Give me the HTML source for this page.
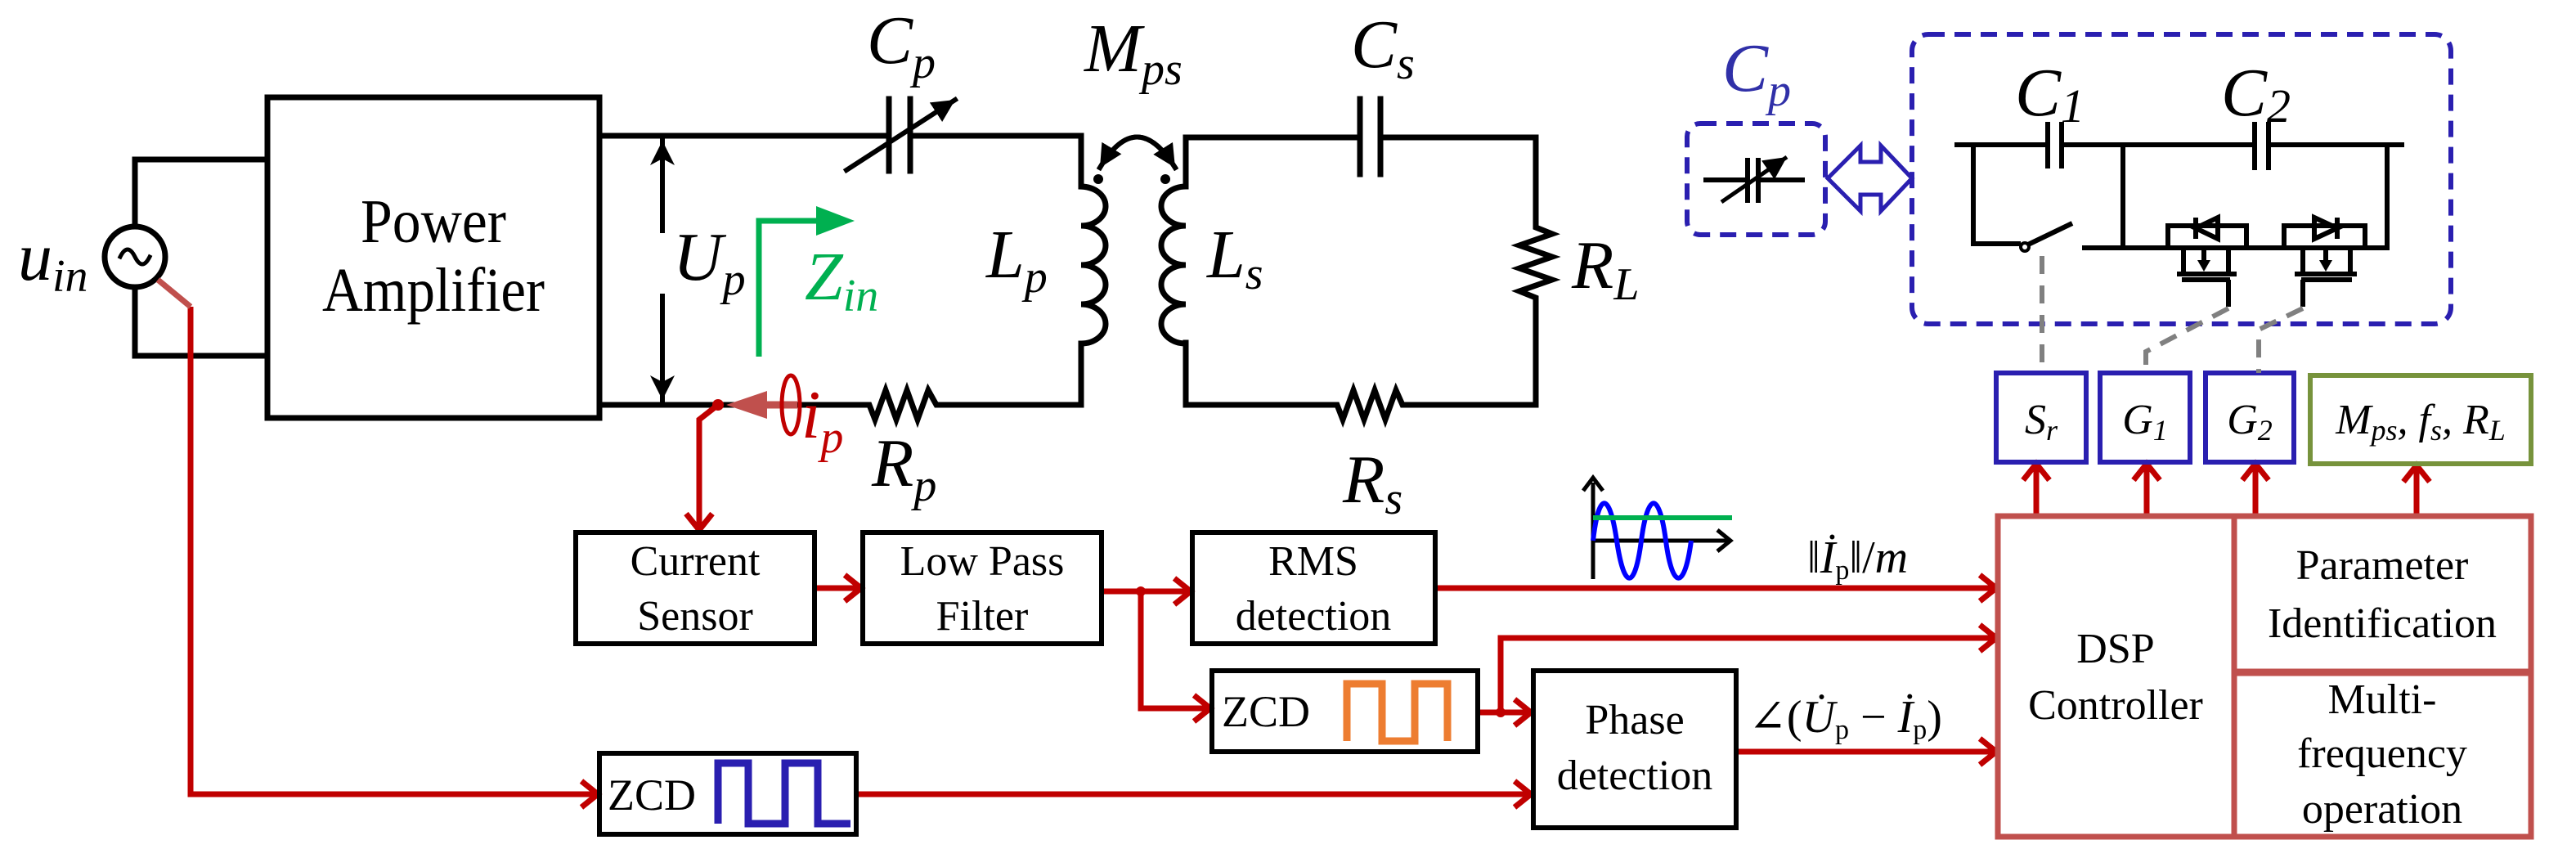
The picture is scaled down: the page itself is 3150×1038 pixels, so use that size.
<!DOCTYPE html>
<html><head><meta charset="utf-8"><style>
html,body{margin:0;padding:0;background:#fff;}
svg{display:block;font-family:'Liberation Serif','DejaVu Serif',serif;}
svg text{font-family:'Liberation Serif','DejaVu Serif',serif;}
.v{font-style:italic;}
</style></head><body>
<svg width="3150" height="1038" viewBox="0 0 3150 1038" xmlns="http://www.w3.org/2000/svg" font-family="Liberation Serif, serif">
<defs>
<marker id="ar" markerUnits="userSpaceOnUse" markerWidth="40" markerHeight="50" refX="26" refY="20" orient="auto">
<path d="M6,4 L26,20 L6,36" fill="none" stroke="#c00000" stroke-width="7"/>
</marker>
<marker id="bk" markerUnits="userSpaceOnUse" markerWidth="40" markerHeight="40" refX="30" refY="15" orient="auto">
<path d="M0,0 L30,15 L0,30 L8,15 Z" fill="#000"/>
</marker>
<marker id="bk2" markerUnits="userSpaceOnUse" markerWidth="40" markerHeight="40" refX="28" refY="14" orient="auto">
<path d="M0,0 L28,14 L0,28 Z" fill="#000"/>
</marker>
</defs>

<g stroke="#000" stroke-width="7" fill="none" stroke-linecap="square">
<ellipse cx="165" cy="314" rx="37" ry="37"/>
<path d="M147,314 q9,-18 18,0 q9,18 18,0" stroke-width="5"/>
<path d="M165,277 V195 H327 M165,351 V435 H327"/>
<rect x="327" y="119" width="406" height="392"/>
<path d="M733,166 H1087 M1113,166 H1322 V228"/>
<path d="M1087,121 V209 M1113,121 V209"/>
<path d="M1322,228 a30,24 0 0 1 0,48 a30,24 0 0 1 0,48 a30,24 0 0 1 0,48 a30,24 0 0 1 0,48 V495 H1145 l-10,-18 l-13,36 l-13,-36 l-13,36 l-13,-36 l-13,36 l-7,-18 H733"/>
<line x1="1035" y1="208" x2="1168" y2="122" marker-end="url(#bk2)" stroke-width="6"/>
<line x1="810" y1="282" x2="810" y2="172" marker-end="url(#bk)" stroke-width="6"/>
<line x1="810" y1="362" x2="810" y2="489" marker-end="url(#bk)" stroke-width="6"/>
<path d="M1450,228 V168 H1663 M1688,168 H1878 V278 l20,8 l-40,14 l40,14 l-40,14 l40,14 l-40,14 l20,8 V495 H1715 l-8,-18 l-13,36 l-13,-36 l-13,36 l-13,-36 l-13,36 l-7,-18 H1450 V419"/>
<path d="M1663,121 V213 M1688,121 V213"/>
<path d="M1450,228 a30,24 0 0 0 0,48 a30,24 0 0 0 0,48 a30,24 0 0 0 0,48 a30,24 0 0 0 0,48"/>
<path d="M1345,205 Q1390,130 1437,205" stroke-width="6" marker-end="url(#bk2)"/>
<path d="M1437,205 Q1390,130 1345,205" stroke-width="6" marker-end="url(#bk2)"/>
</g>
<circle cx="1343" cy="219" r="6"/>
<circle cx="1425" cy="219" r="6"/>

<path d="M928,436 V270 H1000" stroke="#00b050" stroke-width="7" fill="none"/>
<polygon points="998,252 1045,270 998,288" fill="#00b050"/>

<polygon points="888,495 938,478 938,512" fill="#c0504d"/>
<line x1="935" y1="495" x2="975" y2="495" stroke="#c0504d" stroke-width="9"/>
<ellipse cx="967" cy="495" rx="11" ry="36" fill="none" stroke="#c00000" stroke-width="5"/>
<circle cx="878" cy="495" r="7" fill="#c00000"/>

<g stroke="#c00000" stroke-width="7" fill="none">
<path d="M878,495 L855,513 V648" marker-end="url(#ar)"/>
<path d="M233,375 V971 H731" marker-end="url(#ar)"/>
<path d="M996,719 H1053" marker-end="url(#ar)"/>
<path d="M1347,723 H1456" marker-end="url(#ar)"/>
<path d="M1395,723 V866 H1480" marker-end="url(#ar)"/>
<path d="M1807,871 H1872" marker-end="url(#ar)"/>
<path d="M1835,871 V780 H2441" marker-end="url(#ar)"/>
<path d="M1755,719 H2441" marker-end="url(#ar)"/>
<path d="M2123,919 H2441" marker-end="url(#ar)"/>
<path d="M1047,971 H1872" marker-end="url(#ar)"/>
<path d="M2490,631 V567" marker-end="url(#ar)"/>
<path d="M2625,631 V567" marker-end="url(#ar)"/>
<path d="M2758,631 V567" marker-end="url(#ar)"/>
<path d="M2955,631 V569" marker-end="url(#ar)"/>
</g>
<line x1="193" y1="342" x2="233" y2="375" stroke="#c0504d" stroke-width="7"/>
<circle cx="1395" cy="723" r="6" fill="#c00000"/>
<circle cx="1835" cy="871" r="6" fill="#c00000"/>

<g stroke="#000" stroke-width="6" fill="none">
<rect x="704" y="651" width="292" height="136"/>
<rect x="1055" y="651" width="292" height="136"/>
<rect x="1458" y="651" width="297" height="136"/>
<rect x="1482" y="820" width="325" height="99"/>
<rect x="1875" y="820" width="248" height="192"/>
<rect x="733" y="921" width="314" height="99"/>
</g>
<path d="M878,1007 V933 H915 V1007 H960 V933 H1000 V1007 H1040" stroke="#2a1fb0" stroke-width="9" fill="none"/>
<path d="M1647,906 V836 H1690 V906 H1730 V836 H1770 V906" stroke="#ed7d31" stroke-width="9" fill="none"/>

<g stroke="#c0504d" stroke-width="7" fill="none">
<rect x="2443" y="631" width="652" height="392"/>
<line x1="2732" y1="631" x2="2732" y2="1023"/>
<line x1="2732" y1="822" x2="3095" y2="822" stroke-width="9"/>
</g>
<g stroke="#2a1fb0" stroke-width="6" fill="none">
<rect x="2441" y="456" width="110" height="109"/>
<rect x="2568" y="456" width="110" height="109"/>
<rect x="2697" y="456" width="108" height="109"/>
</g>
<rect x="2825" y="459" width="270" height="108" stroke="#77933c" stroke-width="6" fill="none"/>

<g fill="none">
<line x1="1948" y1="708" x2="1948" y2="590" stroke="#000" stroke-width="5"/>
<path d="M1936,600 L1948,584 L1960,600" stroke="#000" stroke-width="5"/>
<line x1="1948" y1="661" x2="2112" y2="661" stroke="#000" stroke-width="5"/>
<path d="M2100,648 L2116,661 L2100,674" stroke="#000" stroke-width="5"/>
<path d="M1948,661 C1955,600 1968,600 1977,661 S1999,722 2007,661 S2029,600 2037,661 S2060,722 2068,661" stroke="#0000ff" stroke-width="6"/>
<line x1="1948" y1="633" x2="2118" y2="633" stroke="#00b050" stroke-width="6"/>
</g>

<g stroke="#2a1fb0" stroke-width="6" fill="none" stroke-dasharray="20 12">
<rect x="2063" y="151" width="169" height="136" rx="16"/>
<rect x="2338" y="42" width="659" height="354" rx="20"/>
</g>
<g stroke="#000" stroke-width="6" fill="none">
<path d="M2083,220 H2137 M2150,220 H2207 M2137,193 V248 M2150,193 V248"/>
<line x1="2105" y1="247" x2="2185" y2="192" marker-end="url(#bk2)" stroke-width="5"/>
</g>
<polygon points="2235,218 2275,178 2275,198 2300,198 2300,178 2338,218 2300,258 2300,238 2275,238 2275,258" fill="#fff" stroke="#2a1fb0" stroke-width="5"/>

<g stroke="#000" stroke-width="6" fill="none">
<path d="M2390,177 H2504 M2521,177 H2757 M2774,177 H2940"/>
<path d="M2504,149 V206 M2521,149 V206 M2757,149 V208 M2774,149 V208"/>
<path d="M2413,177 V298 H2471"/>
<path d="M2480,299 L2534,273"/>
<path d="M2546,303 H2919 V180"/>
<path d="M2596,177 V303"/>
<path d="M2651,303 V276 H2747 V303"/>
<path d="M2685,266 V292"/>
<polygon points="2685,279 2712,266 2712,292"/>
<path d="M2670,303 V335 M2725,303 V335 M2695,303 V322"/>
<path d="M2662,335 H2735 M2668,342 H2727 M2725,342 V375"/>
<path d="M2793,303 V276 H2892 V303"/>
<path d="M2858,266 V292"/>
<polygon points="2858,279 2830,266 2830,292"/>
<path d="M2816,303 V335 M2874,303 V335 M2844,303 V322"/>
<path d="M2806,335 H2882 M2814,342 H2876 M2816,342 V375"/>
</g>
<polygon points="2687,318 2703,318 2695,332" fill="#000"/>
<polygon points="2836,318 2852,318 2844,332" fill="#000"/>
<circle cx="2476" cy="302" r="5" fill="#fff" stroke="#000" stroke-width="4"/>
<g stroke="#808080" stroke-width="6" fill="none" stroke-dasharray="22 14">
<path d="M2497,313 V456"/>
<path d="M2725,377 L2624,430 V456"/>
<path d="M2816,377 L2762,403 V456"/>
</g>

<g font-size="76" text-anchor="middle">
<text x="530" y="296" textLength="178" lengthAdjust="spacingAndGlyphs">Power</text>
<text x="530" y="380" textLength="272" lengthAdjust="spacingAndGlyphs">Amplifier</text>
</g>
<g font-size="52" text-anchor="middle">
<text x="850" y="703">Current</text>
<text x="850" y="770">Sensor</text>
<text x="1201" y="703">Low Pass</text>
<text x="1201" y="770">Filter</text>
<text x="1606" y="703">RMS</text>
<text x="1606" y="770">detection</text>
<text x="1999" y="897">Phase</text>
<text x="1999" y="965">detection</text>
<text x="2587" y="810">DSP</text>
<text x="2587" y="879">Controller</text>
<text x="2913" y="708">Parameter</text>
<text x="2913" y="779">Identification</text>
<text x="2913" y="872">Multi-</text>
<text x="2913" y="938">frequency</text>
<text x="2913" y="1006">operation</text>
</g>
<text x="743" y="990" font-size="54">ZCD</text>
<text x="1494" y="888" font-size="54">ZCD</text>

<g class="v" font-size="84">
<text x="22" y="342">u<tspan font-size="56" dy="14">in</tspan></text>
<text x="1060" y="77">C<tspan font-size="56" dy="18">p</tspan></text>
<text x="1326" y="87">M<tspan font-size="56" dy="16">ps</tspan></text>
<text x="1652" y="82">C<tspan font-size="56" dy="14">s</tspan></text>
<text x="823" y="342">U<tspan font-size="56" dy="18">p</tspan></text>
<text x="984" y="366" fill="#00b050">Z<tspan font-size="56" dy="14">in</tspan></text>
<text x="1206" y="339">L<tspan font-size="56" dy="18">p</tspan></text>
<text x="1476" y="339">L<tspan font-size="56" dy="14">s</tspan></text>
<text x="1922" y="352">R<tspan font-size="56" dy="14">L</tspan></text>
<text x="980" y="535" fill="#c00000">i<tspan font-size="56" dy="18">p</tspan></text>
<text x="1066" y="594">R<tspan font-size="56" dy="18">p</tspan></text>
<text x="1642" y="614">R<tspan font-size="56" dy="14">s</tspan></text>
<text x="2106" y="111" fill="#3030a8">C<tspan font-size="56" dy="18">p</tspan></text>
<text x="2464" y="141" font-size="84">C<tspan font-size="58" dy="8">1</tspan></text>
<text x="2716" y="141" font-size="84">C<tspan font-size="58" dy="8">2</tspan></text>
</g>
<g class="v" font-size="52" text-anchor="middle">
<text x="2496" y="530">S<tspan font-size="36" dy="8">r</tspan></text>
<text x="2623" y="530">G<tspan font-size="36" dy="8">1</tspan></text>
<text x="2751" y="530">G<tspan font-size="36" dy="8">2</tspan></text>
<text x="2960" y="530">M<tspan font-size="36" dy="8">ps</tspan><tspan dy="-8">, f</tspan><tspan font-size="36" dy="8">s</tspan><tspan dy="-8">, R</tspan><tspan font-size="36" dy="8">L</tspan></text>
</g>
<text x="2210" y="700" font-size="56">‖<tspan class="v">İ</tspan><tspan font-size="34" dy="8">p</tspan><tspan dy="-8">‖/</tspan><tspan class="v">m</tspan></text>
<text x="2138" y="895" font-size="56">∠(<tspan class="v">U̇</tspan><tspan font-size="34" dy="8">p</tspan><tspan dy="-8"> − </tspan><tspan class="v">İ</tspan><tspan font-size="34" dy="8">p</tspan><tspan dy="-8">)</tspan></text>
</svg>
</body></html>
